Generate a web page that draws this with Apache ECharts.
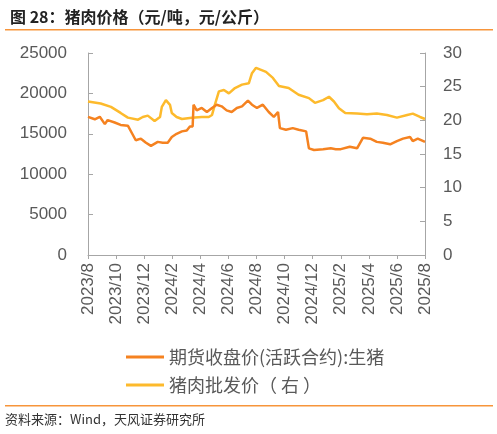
<!DOCTYPE html>
<html><head><meta charset="utf-8">
<script src="https://cdn.jsdelivr.net/npm/echarts@6/dist/echarts.min.js"></script>
<style>html,body{margin:0;padding:0;background:#fff}#c{width:497px;height:434px}</style>
</head><body><div id="c"></div>
<script>
// 期货收盘价(活跃合约):生猪 (元/吨, left axis)
const futDates = ['2023-08-01','2023-08-16','2023-08-27','2023-09-07','2023-09-13','2023-09-28','2023-10-11','2023-10-27','2023-11-07','2023-11-13','2023-11-24','2023-12-05','2023-12-16','2023-12-31','2024-01-11','2024-01-22','2024-01-31','2024-02-10','2024-02-21','2024-03-02','2024-03-09','2024-03-15','2024-03-17','2024-03-24','2024-04-04','2024-04-15','2024-04-26','2024-05-06','2024-05-17','2024-05-28','2024-06-08','2024-06-19','2024-06-30','2024-07-13','2024-07-22','2024-08-02','2024-08-15','2024-08-28','2024-09-08','2024-09-17','2024-09-21','2024-10-04','2024-10-19','2024-11-01','2024-11-17','2024-11-23','2024-12-04','2024-12-24','2025-01-10','2025-01-21','2025-02-01','2025-02-19','2025-03-06','2025-03-19','2025-04-04','2025-04-18','2025-05-01','2025-05-17','2025-06-01','2025-06-14','2025-06-29','2025-07-05','2025-07-16','2025-08-01'];
const futValues = [17100,16800,17100,16200,16700,16400,16100,16000,14850,14200,14400,13900,13500,14000,13900,13900,14600,15000,15300,15400,15900,15900,18600,17900,18200,17700,18200,18600,18400,17900,17700,18200,18400,19100,18600,18200,18600,17700,17100,17700,15700,15500,15700,15500,15300,13200,13000,13100,13200,13100,13100,13400,13200,14500,14400,14000,13900,13700,14100,14400,14600,14100,14400,14000];
// 猪肉批发价 (元/公斤, right axis)
const porkDates = ['2023-08-01','2023-08-29','2023-09-20','2023-10-11','2023-10-27','2023-11-18','2023-11-28','2023-12-09','2023-12-24','2024-01-05','2024-01-09','2024-01-18','2024-01-27','2024-01-31','2024-02-10','2024-02-21','2024-03-13','2024-04-04','2024-04-19','2024-04-26','2024-05-02','2024-05-11','2024-05-22','2024-06-02','2024-06-15','2024-06-30','2024-07-15','2024-07-22','2024-07-31','2024-08-22','2024-09-06','2024-09-19','2024-10-10','2024-11-01','2024-11-23','2024-12-06','2024-12-24','2025-01-06','2025-01-17','2025-01-28','2025-02-10','2025-03-06','2025-03-28','2025-04-18','2025-05-10','2025-06-01','2025-06-23','2025-07-05','2025-07-21','2025-08-01'];
const porkValues = [22.8,22.5,22.0,21.1,20.4,20.1,20.5,20.7,19.9,20.5,22.0,23.0,22.3,21.1,20.5,20.2,20.4,20.5,20.5,20.8,22.3,24.3,24.5,24.0,24.8,25.3,25.5,27.0,27.8,27.2,26.3,25.1,24.8,23.8,23.3,22.6,23.0,23.5,22.8,21.8,21.1,21.0,20.9,21.0,20.8,20.4,20.8,21.0,20.5,20.2];
const xTickLabels = ['2023/8','2023/10','2023/12','2024/2','2024/4','2024/6','2024/8','2024/10','2024/12','2025/2','2025/4','2025/6','2025/8'];
const leftTicks = [0,5000,10000,15000,20000,25000];
const rightTicks = [0,5,10,15,20,25,30];

function monthOffset(d){
  const [y,m,dd] = d.split('-').map(Number);
  const dim = new Date(y, m, 0).getDate();
  return (y-2023)*12 + (m-8) + (dd-1)/dim;
}
const futData = futDates.map((d,i)=>[monthOffset(d), futValues[i]]);
const porkData = porkDates.map((d,i)=>[monthOffset(d), porkValues[i]]);

const gray = '#595959', axisC = '#A6A6A6';
const chart = echarts.init(document.getElementById('c'));
chart.setOption({
  animation:false,
  textStyle:{fontFamily:'Liberation Sans, Noto Sans CJK SC, sans-serif'},
  title:{text:'图 28：猪肉价格（元/吨，元/公斤）',left:5,top:4,
    textStyle:{fontSize:16,fontWeight:'bold',color:'#222',fontFamily:'Noto Sans CJK SC'}},
  graphic:[
    {type:'rect',shape:{x:5,y:29,width:488,height:1.5},style:{fill:'#F7953B'}},
    {type:'rect',shape:{x:5,y:405,width:488,height:1.5},style:{fill:'#F7953B'}},
    {type:'text',left:5,top:413,style:{text:'资料来源：Wind，天风证券研究所',fontSize:13,fill:'#333',fontFamily:'Noto Sans CJK SC'}}
  ],
  grid:{left:88,right:72,top:53,bottom:179},
  legend:{orient:'vertical',left:121,top:343,itemWidth:38,itemHeight:3,itemGap:10,icon:'rect',
    textStyle:{fontSize:18,color:gray,fontFamily:'Noto Sans CJK SC'},
    data:['期货收盘价(活跃合约):生猪','猪肉批发价（ 右 ）']},
  xAxis:{type:'value',min:0,max:24,interval:2,
    axisLine:{show:true,lineStyle:{color:axisC}},
    axisTick:{show:true,inside:false,length:4,lineStyle:{color:axisC}},
    splitLine:{show:false},
    axisLabel:{rotate:90,fontSize:17,color:gray,margin:8,
      formatter:v=>xTickLabels[Math.round(v/2)]||''}},
  yAxis:[
    {type:'value',min:leftTicks[0],max:leftTicks[leftTicks.length-1],interval:5000,
      axisLine:{show:true,lineStyle:{color:axisC}},
      axisTick:{show:true,inside:true,length:5,lineStyle:{color:axisC}},
      splitLine:{show:false},
      axisLabel:{fontSize:17,color:gray,margin:21,formatter:v=>String(v)}},
    {type:'value',min:rightTicks[0],max:rightTicks[rightTicks.length-1],interval:5,position:'right',
      axisLine:{show:true,lineStyle:{color:axisC}},
      axisTick:{show:true,inside:true,length:5,lineStyle:{color:axisC}},
      splitLine:{show:false},
      axisLabel:{fontSize:17,color:gray,margin:18,formatter:v=>String(v)}}
  ],
  series:[
    {name:'期货收盘价(活跃合约):生猪',type:'line',data:futData,yAxisIndex:0,showSymbol:false,symbol:'none',
      lineStyle:{color:'#F58220',width:2.5},itemStyle:{color:'#F58220'},z:3},
    {name:'猪肉批发价（ 右 ）',type:'line',data:porkData,yAxisIndex:1,showSymbol:false,symbol:'none',
      lineStyle:{color:'#FDBA2C',width:2.5},itemStyle:{color:'#FDBA2C'},z:2}
  ]
});
</script></body></html>
